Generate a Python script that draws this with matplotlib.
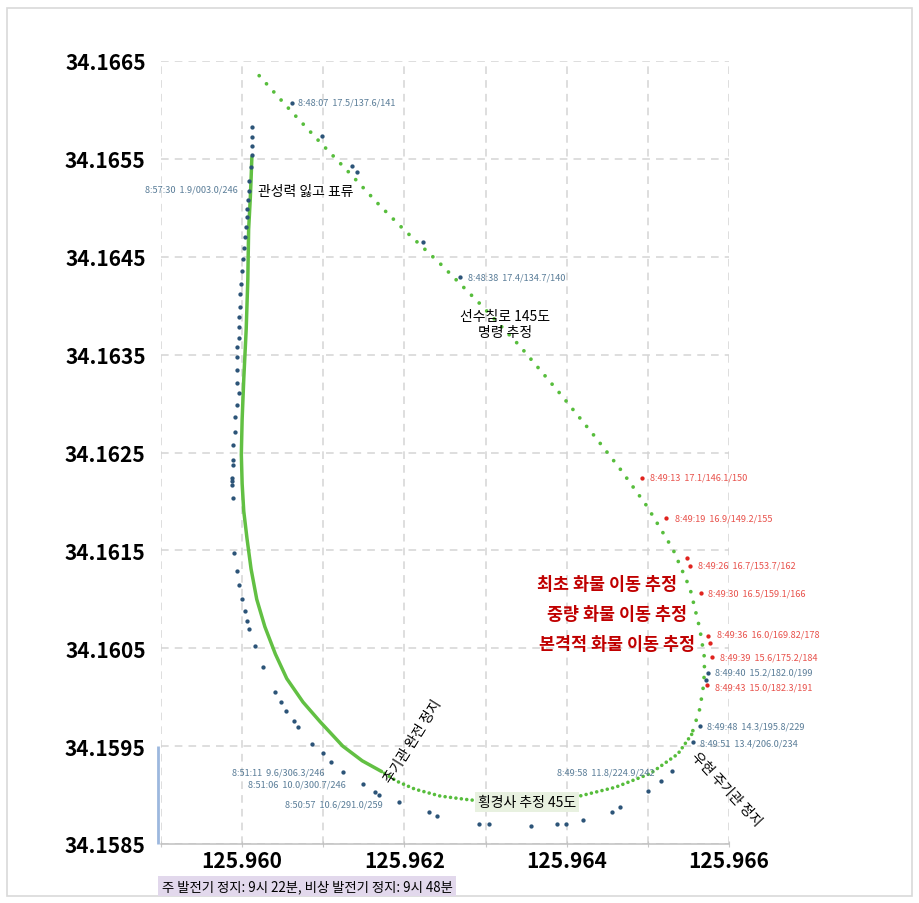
import matplotlib
matplotlib.use("Agg")
import matplotlib.pyplot as plt
from matplotlib.patches import Rectangle

plt.rcParams['font.family'] = ['Noto Sans CJK KR', 'DejaVu Sans']

# AIS positions (blue) along the drift
blue_lon = [125.96061, 125.96098, 125.96135, 125.96142, 125.96223, 125.96269,
            125.96574, 125.96572, 125.96564, 125.96556, 125.96530, 125.96516,
            125.96500, 125.96466, 125.96456, 125.96420, 125.96399, 125.96388,
            125.96356, 125.96304, 125.96292, 125.96240, 125.96230, 125.96193,
            125.96169, 125.96164, 125.96149, 125.96124, 125.96110, 125.96100,
            125.96086, 125.96069, 125.96064, 125.96054, 125.96048, 125.96041,
            125.96026, 125.96016, 125.96008, 125.96006, 125.96004, 125.96000,
            125.95996, 125.95994, 125.95990, 125.95989, 125.95988, 125.95988,
            125.95988, 125.95989, 125.95989, 125.95989, 125.95991, 125.95991,
            125.95994, 125.95996, 125.95994, 125.95994, 125.95994, 125.95994,
            125.95996, 125.95996, 125.95996, 125.95997, 125.95997, 125.95999,
            125.96000, 125.96001, 125.96002, 125.96004, 125.96005, 125.96006,
            125.96006, 125.96007, 125.96008, 125.96008, 125.96011, 125.96012,
            125.96012, 125.96012, 125.96012]
blue_lat = [34.16607, 34.16573, 34.16543, 34.16537, 34.16465, 34.16429,
            34.16025, 34.16018, 34.15971, 34.15954, 34.15925, 34.15914,
            34.15904, 34.15888, 34.15883, 34.15875, 34.15870, 34.15870,
            34.15868, 34.15870, 34.15870, 34.15879, 34.15883, 34.15893,
            34.15900, 34.15903, 34.15911, 34.15924, 34.15934, 34.15943,
            34.15952, 34.15970, 34.15976, 34.15986, 34.15995, 34.16005,
            34.16031, 34.16052, 34.16070, 34.16078, 34.16088, 34.16100,
            34.16115, 34.16129, 34.16147, 34.16204, 34.16217, 34.16221,
            34.16224, 34.16237, 34.16242, 34.16258, 34.16271, 34.16286,
            34.16299, 34.16311, 34.16321, 34.16334, 34.16348, 34.16358,
            34.16367, 34.16378, 34.16388, 34.16399, 34.16412, 34.16422,
            34.16435, 34.16448, 34.16459, 34.16470, 34.16480, 34.16491,
            34.16499, 34.16508, 34.16517, 34.16527, 34.16542, 34.16554,
            34.16563, 34.16572, 34.16583]

# AIS positions (red) during the cargo shift
red_lon = [125.96493, 125.96522, 125.96548, 125.96552, 125.96566,
           125.96574, 125.96577, 125.96579, 125.96573]
red_lat = [34.16224, 34.16183, 34.16142, 34.16134, 34.16106,
           34.16063, 34.16055, 34.16041, 34.16012]

# Estimated track: turning part (dotted), heeling part (dense dots), drift part (solid)
turn_lon = [125.96021, 125.96059, 125.96096, 125.96133, 125.96170, 125.96199,
            125.96244, 125.96293, 125.96342, 125.96392, 125.96435, 125.96466,
            125.96499, 125.96531, 125.96552, 125.96564, 125.96570, 125.96569,
            125.96564, 125.96554]
turn_lat = [34.16635, 34.16600, 34.16567, 34.16535, 34.16502, 34.16478,
            34.16443, 34.16402, 34.16359, 34.16310, 34.16266, 34.16233,
            34.16195, 34.16151, 34.16111, 34.16070, 34.16039, 34.16014,
            34.15988, 34.15962]
heel_lon = [125.96554, 125.96537, 125.96503, 125.96460, 125.96416, 125.96367,
            125.96318, 125.96281, 125.96244, 125.96213, 125.96191, 125.96172]
heel_lat = [34.15962, 34.15942, 34.15922, 34.15908, 34.15899, 34.15894,
            34.15893, 34.15895, 34.15899, 34.15906, 34.15914, 34.15924]
drift_lon = [125.96172, 125.96148, 125.96124, 125.96096, 125.96075, 125.96055,
             125.96041, 125.96028, 125.96018, 125.96011, 125.96006, 125.96002,
             125.96000, 125.95999, 125.96000, 125.96002, 125.96005, 125.96007,
             125.96008, 125.96010, 125.96011, 125.96012]
drift_lat = [34.15924, 34.15935, 34.15950, 34.15975, 34.15995, 34.16019,
             34.16044, 34.16072, 34.16100, 34.16131, 34.16162, 34.16190,
             34.16218, 34.16248, 34.16284, 34.16325, 34.16376, 34.16427,
             34.16478, 34.16509, 34.16529, 34.16552]

# Point labels: time, speed/course/heading
blue_labels = ["8:48:07  17.5/137.6/141", "8:48:38  17.4/134.7/140",
               "8:49:40  15.2/182.0/199", "8:49:48  14.3/195.8/229",
               "8:49:51  13.4/206.0/234", "8:49:58  11.8/224.9/242",
               "8:51:11  9.6/306.3/246", "8:51:06  10.0/300.7/246",
               "8:50:57  10.6/291.0/259", "8:57:30  1.9/003.0/246"]
blue_label_lon = [125.96069, 125.96278, 125.96583, 125.96573, 125.96564,
                  125.96388, 125.95988, 125.96007, 125.96053, 125.95994]
blue_label_lat = [34.16608, 34.16429, 34.16026, 34.15971, 34.15953,
                  34.15924, 34.15924, 34.15911, 34.15891, 34.16519]
blue_label_ha = ['left'] * 9 + ['right']

red_labels = ["8:49:13  17.1/146.1/150", "8:49:19  16.9/149.2/155",
              "8:49:26  16.7/153.7/162", "8:49:30  16.5/159.1/166",
              "8:49:36  16.0/169.82/178", "8:49:39  15.6/175.2/184",
              "8:49:43  15.0/182.3/191"]
red_label_lon = [125.96503, 125.96533, 125.96562, 125.96574, 125.96585,
                 125.96589, 125.96583]
red_label_lat = [34.16225, 34.16183, 34.16135, 34.16106, 34.16065,
                 34.16041, 34.16010]

x_ticks = [125.959, 125.960, 125.961, 125.962, 125.963, 125.964, 125.965, 125.966]
x_tick_labels = ['', '125.960', '', '125.962', '', '125.964', '', '125.966']
y_ticks = [34.1585, 34.1595, 34.1605, 34.1615, 34.1625, 34.1635, 34.1645, 34.1655, 34.1665]
y_tick_labels = ['34.1585', '34.1595', '34.1605', '34.1615', '34.1625',
                 '34.1635', '34.1645', '34.1655', '34.1665']

cargo_notes = ["최초 화물 이동 추정", "중량 화물 이동 추정", "본격적 화물 이동 추정"]
cargo_lon = [125.96450, 125.96462, 125.96462]
cargo_lat = [34.16116, 34.16085, 34.16054]

W, H = 919, 904
fig = plt.figure(figsize=(W / 100, H / 100), dpi=100)
ax = fig.add_axes([161 / W, 1 - 845 / H, (729 - 161) / W, (845 - 62) / H])

ax.set_xlim(x_ticks[0], x_ticks[-1])
ax.set_ylim(y_ticks[0], y_ticks[-1])
ax.set_xticks(x_ticks)
ax.set_xticklabels(x_tick_labels)
ax.set_yticks(y_ticks)
ax.set_yticklabels(y_tick_labels)
for lbl in ax.get_xticklabels() + ax.get_yticklabels():
    lbl.set_fontsize(15)
    lbl.set_fontweight('bold')
ax.tick_params(axis='y', length=0, pad=11)
ax.tick_params(axis='x', length=5, direction='inout', color='#c8c8c8', pad=2)

ax.grid(True, color='#d4d4d4', linestyle=(0, (5, 4)), linewidth=1.1, zorder=0)
for side in ['left', 'top', 'right']:
    ax.spines[side].set_visible(False)
ax.spines['bottom'].set_color('#c0c0c0')
ax.spines['bottom'].set_linewidth(1.1)

# small blue bar at the lower left of the plot
ax.plot([-0.006, -0.006], [0.0, 0.125], transform=ax.transAxes,
        color='#9db8de', lw=2, clip_on=False, solid_capstyle='butt')

green = '#57bd3c'
ax.plot(turn_lon, turn_lat, color=green, lw=2.7, linestyle=(0, (0.01, 2.9)),
        dash_capstyle='round', zorder=2)
ax.plot(heel_lon, heel_lat, color=green, lw=2.6, linestyle=(0, (0.01, 1.5)),
        dash_capstyle='round', zorder=2)
ax.plot(drift_lon, drift_lat, color='#62c043', lw=2.5, zorder=2,
        solid_capstyle='round', solid_joinstyle='round')

ax.plot(blue_lon, blue_lat, 'o', color='#2c5478', ms=3.1, mew=0, zorder=3)
ax.plot(red_lon, red_lat, 'o', color='#e0231e', ms=3.1, mew=0, zorder=3)

for t, x, y, ha in zip(blue_labels, blue_label_lon, blue_label_lat, blue_label_ha):
    ax.text(x, y, t, fontsize=6.6, color='#5a7d98', ha=ha, va='center', zorder=4)
for t, x, y in zip(red_labels, red_label_lon, red_label_lat):
    ax.text(x, y, t, fontsize=6.6, color='#e8524c', ha='left', va='center', zorder=4)

ax.text(125.96020, 34.16517, "관성력 잃고 표류", fontsize=10, color='black',
        ha='left', va='center', zorder=5)
ax.text(125.96324, 34.16381, "선수침로 145도\n명령 추정", fontsize=10, color='black',
        ha='center', va='center', linespacing=1.15, zorder=5)
for t, x, y in zip(cargo_notes, cargo_lon, cargo_lat):
    ax.text(x, y, t, fontsize=12.5, fontweight='bold', color='#c00000',
            ha='center', va='center', zorder=5)
ax.text(125.96211, 34.15955, "주기관 완전 정지", fontsize=10, color='black',
        rotation=58, rotation_mode='anchor', ha='center', va='center', zorder=5)
ax.text(125.96596, 34.15907, "우현 주기관 정지", fontsize=10, color='black',
        rotation=-47, rotation_mode='anchor', ha='center', va='center', zorder=5)
ax.text(125.96351, 34.15893, "횡경사 추정 45도", fontsize=10, color='black',
        ha='center', va='center', zorder=5,
        bbox=dict(boxstyle='square,pad=0.2', facecolor='#e8f1e0', edgecolor='none'))

fig.text(307 / W, 1 - 887 / H, "주 발전기 정지: 9시 22분, 비상 발전기 정지: 9시 48분",
         fontsize=9.6, color='black', ha='center', va='center',
         bbox=dict(boxstyle='square,pad=0.25', facecolor='#e2d8ec', edgecolor='none'))

# outer frame
fig.patches.append(Rectangle((7 / W, 1 - 897 / H), 905 / W, 888 / H,
                             transform=fig.transFigure, fill=False,
                             edgecolor='#d9d9d9', lw=1.2))

fig.savefig("out.png", dpi=100)
